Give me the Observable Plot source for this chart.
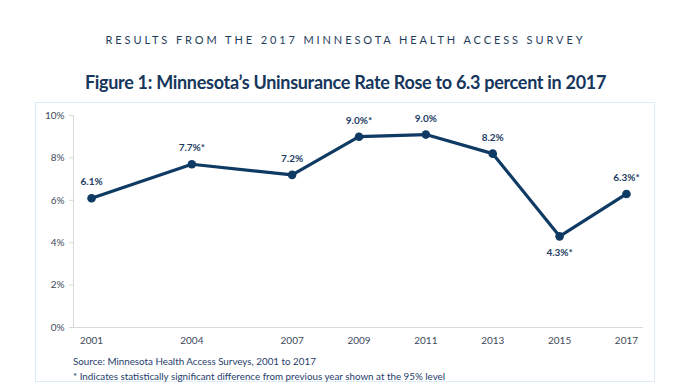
<!DOCTYPE html>
<html>
<head>
<meta charset="utf-8">
<script src="https://cdn.jsdelivr.net/npm/d3@7"></script>
<script src="https://cdn.jsdelivr.net/npm/@observablehq/plot@0.6"></script>
<style>
  html, body { margin: 0; padding: 0; background: #fff; }
  #wrap { position: relative; width: 691px; height: 391px; overflow: hidden; font-family: Lato, "Open Sans", sans-serif; }
  #kicker { position: absolute; top: 33px; left: 0; width: 691px; text-align: center; font-size: 11px; letter-spacing: 2.9px; color: #1f3d5c; }
  #title { position: absolute; top: 71px; left: 0; width: 691px; text-align: center; font-size: 18px; font-weight: bold; color: #16365c; letter-spacing: -0.3px; }
  #box { position: absolute; left: 35px; top: 102px; width: 620px; height: 280px; border: 1.5px solid #dbeef6; box-sizing: border-box; }
  #chart { position: absolute; left: 0; top: 100px; }
  #cap { position: absolute; left: 73px; top: 354px; font-size: 9.8px; line-height: 14.5px; color: #1f3d6c; }
</style>
</head>
<body>
<div id="wrap">
  <div id="kicker">RESULTS FROM THE 2017 MINNESOTA HEALTH ACCESS SURVEY</div>
  <div id="title">Figure 1: Minnesota’s Uninsurance Rate Rose to 6.3 percent in 2017</div>
  <div id="box"></div>
  <div id="chart"></div>
  <div id="cap">Source: Minnesota Health Access Surveys, 2001 to 2017<br>* Indicates statistically significant difference from previous year shown at the 95% level</div>
</div>
<script>
const years = [2001, 2004, 2007, 2009, 2011, 2013, 2015, 2017];
const rates = [6.1, 7.7, 7.2, 9.0, 9.1, 8.2, 4.3, 6.3];
const shownValues = [6.1, 7.7, 7.2, 9.0, 9.0, 8.2, 4.3, 6.3];
const significant = [false, true, false, true, false, false, true, true];
const labelBelowYears = [2015];
const yTicks = [0, 2, 4, 6, 8, 10];

const data = years.map((year, i) => ({
  year,
  rate: rates[i],
  label: shownValues[i].toFixed(1) + "%" + (significant[i] ? "*" : ""),
  below: labelBelowYears.includes(year)
}));

const xDomain = [2000.46, 2017.51];
const navy = "#0f3a63";

const chart = Plot.plot({
  width: 691,
  height: 250,
  marginLeft: 73,
  marginRight: 48,
  marginTop: 15,
  marginBottom: 23,
  style: { fontFamily: "Lato, 'Open Sans', sans-serif", fontSize: "10px", color: "#404a5a", background: "transparent" },
  x: { domain: xDomain, axis: null },
  y: { domain: [0, 10], axis: null },
  marks: [
    Plot.ruleY([0], { stroke: "#d9d9d9", strokeWidth: 1 }),
    Plot.ruleX([xDomain[0]], { y1: 0, y2: 10, stroke: "#d9d9d9", strokeWidth: 1 }),
    Plot.axisY(yTicks, { label: null, tickSize: 4, tickPadding: 5, stroke: "#d9d9d9", tickFormat: d => d + "%", fill: "#404a5a", fontSize: 10 }),
    Plot.axisX(years, { label: null, tickSize: 0, tickPadding: 9, tickFormat: d => String(d), fill: "#404a5a", fontSize: 10 }),
    Plot.line(data, { x: "year", y: "rate", stroke: navy, strokeWidth: 3.2, strokeLinejoin: "round" }),
    Plot.dot(data, { x: "year", y: "rate", r: 4.3, fill: navy }),
    Plot.text(data.filter(d => !d.below), { x: "year", y: "rate", text: "label", dy: -16, fill: "#1d3d63", fontWeight: "bold", fontSize: 10 }),
    Plot.text(data.filter(d => d.below), { x: "year", y: "rate", text: "label", dy: 16, fill: "#1d3d63", fontWeight: "bold", fontSize: 10 })
  ]
});
document.getElementById("chart").appendChild(chart);
</script>
</body>
</html>
